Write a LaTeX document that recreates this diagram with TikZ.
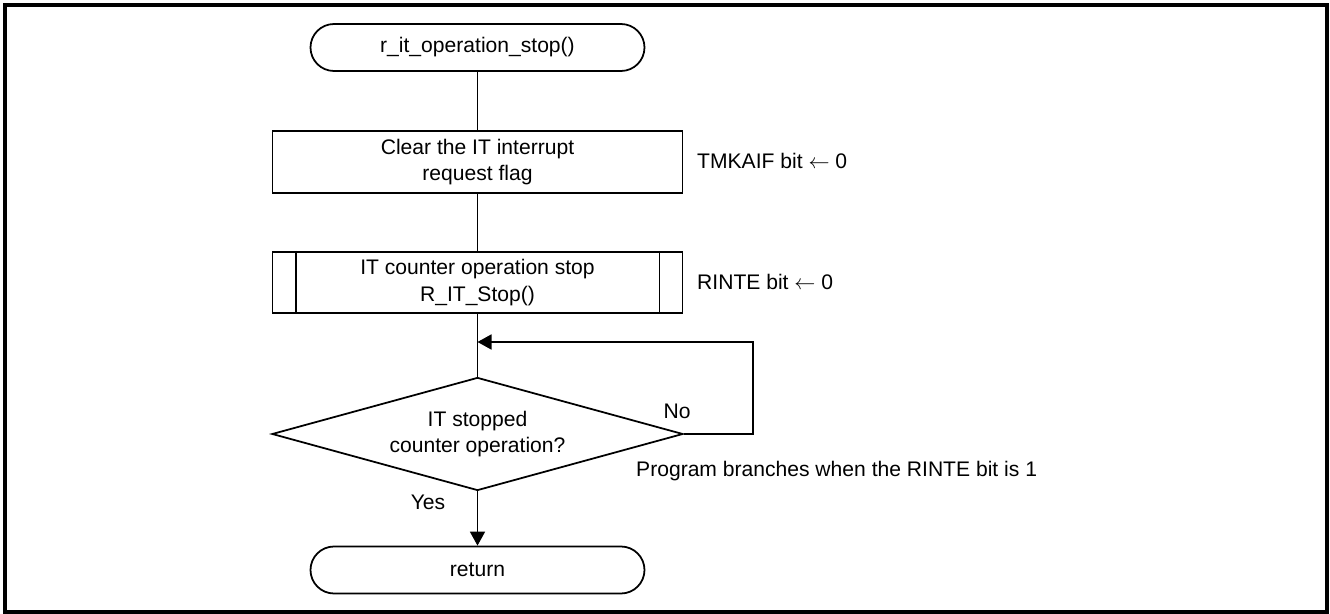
\documentclass[tikz,border=0pt]{standalone}
\usepackage{fontspec}
\setmainfont{Liberation Sans}
\usepackage{tikz}
\usetikzlibrary{arrows.meta, positioning, calc, shapes.geometric}

\begin{document}
\begin{tikzpicture}[
    every node/.style={font=\fontsize{12}{15.3}\selectfont},
    flow/.style={line width=1pt},
    flowarrow/.style={line width=1pt, -{Triangle[length=2.8mm, width=3mm]}},
    terminal/.style={draw, line width=1pt, rounded corners=0.47cm,
                     minimum width=6.68cm, minimum height=0.94cm, align=center},
    process/.style={draw, line width=1pt, minimum width=8.2cm,
                    minimum height=1.23cm, align=center},
    decision/.style={draw, line width=1pt, diamond, aspect=3.64, inner sep=0pt,
                     minimum width=8.22cm, minimum height=2.26cm, align=center},
    note/.style={anchor=west, align=left},
  ]
    \useasboundingbox (0,0) rectangle (26.6,-12.28);
    \draw[line width=1.8pt] (0.10,-0.10) rectangle (26.54,-12.24);

    \node[terminal] (start) at (9.55,-0.95) {r\_it\_operation\_stop()};
    \node[process]  (clrif) at (9.55,-3.24) {Clear the IT interrupt\\request flag};
    \node[process]  (itstop) at (9.55,-5.65) {IT counter operation stop\\R\_IT\_Stop()};
    \node[decision] (chk) at (9.55,-8.68) {IT stopped\\counter operation?};
    \node[terminal] (ret) at (9.55,-11.40) {return};

    % subroutine side bars
    \draw[flow] ($(itstop.north west)+(0.48,0)$) -- ($(itstop.south west)+(0.48,0)$);
    \draw[flow] ($(itstop.north east)+(-0.48,0)$) -- ($(itstop.south east)+(-0.48,0)$);

    \node[note] (tmkaif) at (13.82,-3.22) {TMKAIF bit $\leftarrow$ 0};
    \node[note] (rinte)  at (13.82,-5.64) {RINTE bit $\leftarrow$ 0};
    \node[note] (branch) at (12.60,-9.42) {Program branches when the RINTE bit is 1};
    \node (no)  at (13.54,-8.22) {No};
    \node (yes) at (8.56,-10.04) {Yes};

    \coordinate (join) at (9.55,-6.84);

    \draw[flow] (start) -- (clrif);
    \draw[flow] (clrif) -- (itstop);
    \draw[flow] (itstop) -- (chk);
    \draw[flowarrow] (chk.east) -- ++(1.38,0) |- (join);
    \draw[flowarrow] (chk.south) -- (ret.north);
  \end{tikzpicture}
\end{document}
